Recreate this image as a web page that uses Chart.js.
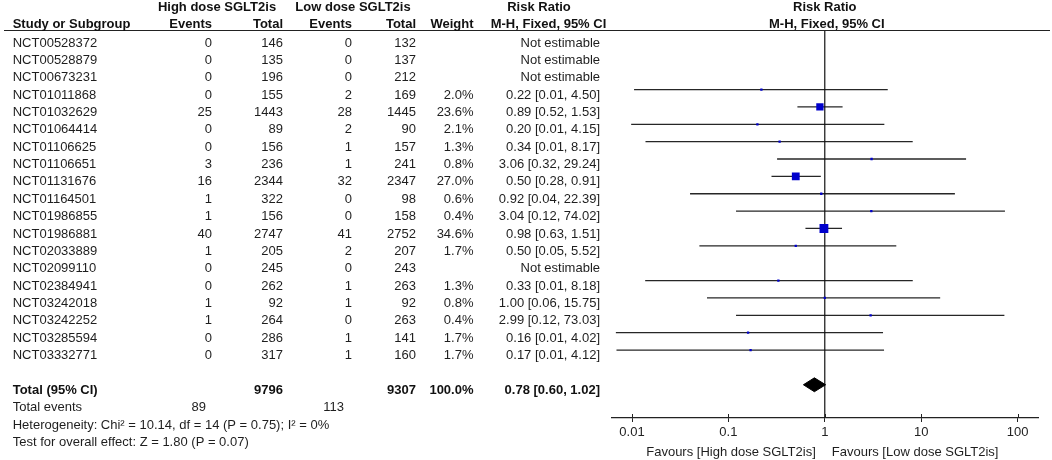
<!DOCTYPE html>
<html>
<head>
<meta charset="utf-8">
<script src="https://cdn.jsdelivr.net/npm/chart.js@4.4.1/dist/chart.umd.min.js"></script>
<style>
html,body{margin:0;padding:0;background:#fff;}
#wrap{position:relative;width:1052px;height:460px;}
</style>
</head>
<body>
<div id="wrap"><canvas id="c" width="1052" height="460"></canvas></div>
<script>
// ---------- data ----------
const studies = ['NCT00528372','NCT00528879','NCT00673231','NCT01011868','NCT01032629','NCT01064414','NCT01106625','NCT01106651','NCT01131676','NCT01164501','NCT01986855','NCT01986881','NCT02033889','NCT02099110','NCT02384941','NCT03242018','NCT03242252','NCT03285594','NCT03332771'];
const hiEvents = [0,0,0,0,25,0,0,3,16,1,1,40,1,0,0,1,1,0,0];
const hiTotals = [146,135,196,155,1443,89,156,236,2344,322,156,2747,205,245,262,92,264,286,317];
const loEvents = [0,0,0,2,28,2,1,1,32,0,0,41,2,0,1,1,0,1,1];
const loTotals = [132,137,212,169,1445,90,157,241,2347,98,158,2752,207,243,263,92,263,141,160];
const weights = [null,null,null,2.0,23.6,2.1,1.3,0.8,27.0,0.6,0.4,34.6,1.7,null,1.3,0.8,0.4,1.7,1.7];
const riskRatios = [null,null,null,0.22,0.89,0.20,0.34,3.06,0.50,0.92,3.04,0.98,0.50,null,0.33,1.00,2.99,0.16,0.17];
const ciLower = [null,null,null,0.0105,0.52,0.0098,0.0138,0.32,0.28,0.04,0.12,0.63,0.05,null,0.0137,0.06,0.12,0.0068,0.0069];
const ciUpper = [null,null,null,4.50,1.53,4.15,8.17,29.24,0.91,22.39,74.02,1.51,5.52,null,8.18,15.75,73.03,4.02,4.12];

const totalLabel = 'Total (95% CI)';
const totalHiN = 9796;
const totalLoN = 9307;
const totalWeight = 100.0;
const pooledRR = 0.78;
const pooledLower = 0.60;
const pooledUpper = 1.02;
const totalEventsHi = 89;
const totalEventsLo = 113;
const heterogeneityText = 'Heterogeneity: Chi\u00B2 = 10.14, df = 14 (P = 0.75); I\u00B2 = 0%';
const overallEffectText = 'Test for overall effect: Z = 1.80 (P = 0.07)';
const xTickValues = [0.01, 0.1, 1, 10, 100];
const favoursLeft = 'Favours [High dose SGLT2is]';
const favoursRight = 'Favours [Low dose SGLT2is]';

// ---------- layout helpers ----------
const FONT = '"Liberation Sans", Arial, Helvetica, sans-serif';
const Y_MIN = -0.4, Y_MAX = 21.914;
const totalRow = studies.length + 1;

Chart.defaults.font.family = FONT;
Chart.defaults.font.size = 13;
Chart.defaults.color = '#222';

const datasets = [];
studies.forEach((s, i) => {
  if (riskRatios[i] == null) return;
  datasets.push({
    data: [{x: ciLower[i], y: i}, {x: ciUpper[i], y: i}],
    showLine: true, borderColor: '#262626', borderWidth: 1.3,
    pointRadius: 0, fill: false, order: 3
  });
});
// line of no effect
datasets.push({
  data: [{x: 1, y: Y_MIN}, {x: 1, y: Y_MAX}],
  showLine: true, borderColor: '#111', borderWidth: 1.2, pointRadius: 0, order: 2
});
// study point estimates
const pts = [];
studies.forEach((s, i) => { if (riskRatios[i] != null) pts.push({x: riskRatios[i], y: i, w: weights[i]}); });
datasets.push({
  data: pts,
  pointStyle: 'rect',
  pointRadius: ctx => Math.max(2.3, 1.5 * Math.sqrt(ctx.raw.w)) / Math.SQRT2,
  backgroundColor: '#0000CC', borderWidth: 0, order: 1
});
// pooled diamond
datasets.push({
  data: [
    {x: pooledLower, y: totalRow},
    {x: pooledRR, y: totalRow - 0.4},
    {x: pooledUpper, y: totalRow},
    {x: pooledRR, y: totalRow + 0.4},
    {x: pooledLower, y: totalRow}
  ],
  showLine: true, fill: 'shape', backgroundColor: '#000', borderColor: '#000',
  borderWidth: 1, pointRadius: 0, tension: 0, order: 0
});

const tablePlugin = {
  id: 'tablePlugin',
  afterDraw(chart) {
    const ctx = chart.ctx;
    const xs = chart.scales.x, ys = chart.scales.y;
    const area = chart.chartArea;
    const rowY = r => ys.getPixelForValue(r) + 5.5;
    const txt = (s, x, y, align, bold) => {
      ctx.font = (bold ? 'bold ' : '') + '13px ' + FONT;
      ctx.textAlign = align;
      ctx.textBaseline = 'middle';
      ctx.fillStyle = bold ? '#111' : '#1e1e1e';
      ctx.fillText(String(s), x, y);
    };
    ctx.save();
    // header underline
    ctx.strokeStyle = '#222';
    ctx.lineWidth = 1.2;
    ctx.beginPath();
    ctx.moveTo(4, area.top);
    ctx.lineTo(1050, area.top);
    ctx.stroke();
    // headers
    txt('High dose SGLT2is', 217, 7.5, 'center', true);
    txt('Low dose SGLT2is', 353, 7.5, 'center', true);
    txt('Risk Ratio', 539, 7.5, 'center', true);
    txt('Risk Ratio', xs.getPixelForValue(1), 7.5, 'center', true);
    txt('Study or Subgroup', 12.7, 24, 'left', true);
    txt('Events', 212, 24, 'right', true);
    txt('Total', 283, 24, 'right', true);
    txt('Events', 352, 24, 'right', true);
    txt('Total', 416, 24, 'right', true);
    txt('Weight', 473.5, 24, 'right', true);
    txt('M-H, Fixed, 95% CI', 548.5, 24, 'center', true);
    txt('M-H, Fixed, 95% CI', xs.getPixelForValue(1) + 2, 24, 'center', true);
    // study rows
    studies.forEach((s, i) => {
      const y = rowY(i);
      txt(s, 12.7, y, 'left');
      txt(hiEvents[i], 212, y, 'right');
      txt(hiTotals[i], 283, y, 'right');
      txt(loEvents[i], 352, y, 'right');
      txt(loTotals[i], 416, y, 'right');
      if (riskRatios[i] == null) {
        txt('Not estimable', 600, y, 'right');
      } else {
        txt(weights[i].toFixed(1) + '%', 473.5, y, 'right');
        txt(riskRatios[i].toFixed(2) + ' [' + ciLower[i].toFixed(2) + ', ' + ciUpper[i].toFixed(2) + ']', 600, y, 'right');
      }
    });
    // total row
    const ty = rowY(totalRow);
    txt(totalLabel, 12.7, ty, 'left', true);
    txt(totalHiN, 283, ty, 'right', true);
    txt(totalLoN, 416, ty, 'right', true);
    txt(totalWeight.toFixed(1) + '%', 473.5, ty, 'right', true);
    txt(pooledRR.toFixed(2) + ' [' + pooledLower.toFixed(2) + ', ' + pooledUpper.toFixed(2) + ']', 600, ty, 'right', true);
    const ey = rowY(totalRow + 1);
    txt('Total events', 12.7, ey, 'left');
    txt(totalEventsHi, 206, ey, 'right');
    txt(totalEventsLo, 344, ey, 'right');
    txt(heterogeneityText, 12.7, rowY(totalRow + 2), 'left');
    txt(overallEffectText, 12.7, rowY(totalRow + 3), 'left');
    // upper half of axis ticks
    ctx.strokeStyle = '#222';
    ctx.lineWidth = 1;
    xTickValues.forEach(v => {
      const x = Math.round(xs.getPixelForValue(v)) + 0.5;
      ctx.beginPath();
      ctx.moveTo(x, area.bottom - 4);
      ctx.lineTo(x, area.bottom);
      ctx.stroke();
    });
    // favours labels
    const x1 = xs.getPixelForValue(1);
    txt(favoursLeft, x1 - 9, 452, 'right');
    txt(favoursRight, x1 + 7, 452, 'left');
    ctx.restore();
  }
};

new Chart(document.getElementById('c'), {
  type: 'scatter',
  data: {datasets},
  options: {
    responsive: false,
    animation: false,
    layout: {padding: {left: 612, right: 14, top: 30.5, bottom: 16.4}},
    plugins: {legend: {display: false}, tooltip: {enabled: false}},
    scales: {
      x: {
        type: 'logarithmic',
        min: 0.0062, max: 163,
        afterBuildTicks: scale => { scale.ticks = xTickValues.map(v => ({value: v})); },
        ticks: {
          autoSkip: false, maxRotation: 0, padding: 3, color: '#222',
          font: {size: 13, family: FONT},
          callback: v => String(v)
        },
        grid: {display: true, drawOnChartArea: false, drawTicks: true, tickLength: 4, color: '#222', lineWidth: 1},
        border: {display: true, color: '#222', width: 1.2}
      },
      y: {
        type: 'linear', display: false, reverse: true, min: Y_MIN, max: Y_MAX
      }
    }
  },
  plugins: [tablePlugin]
});
</script>
</body>
</html>
